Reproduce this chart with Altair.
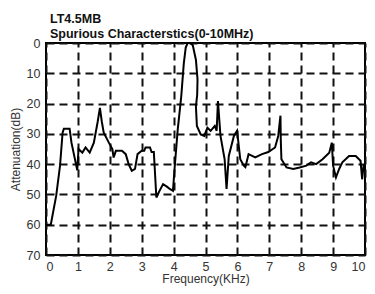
import altair as alt
import pandas as pd

freq = [0.0, 0.15, 0.32, 0.44, 0.52, 0.56, 0.74, 0.80, 0.90, 0.98, 1.02, 1.14, 1.24, 1.37, 1.5,
        1.62, 1.69, 1.75, 1.81, 1.97, 2.08, 2.12, 2.19, 2.38, 2.5, 2.59, 2.69, 2.79, 2.87, 3.0,
        3.08, 3.12, 3.26, 3.31, 3.38, 3.46, 3.55, 3.67, 3.8, 3.88, 3.98, 4.03, 4.13, 4.24, 4.32,
        4.38, 4.44, 4.52, 4.6, 4.7, 4.75, 4.74, 4.7, 4.73, 4.85, 4.96, 5.06, 5.16, 5.29, 5.35,
        5.39, 5.47, 5.6, 5.66, 5.73, 5.89, 5.99, 6.09, 6.2, 6.25, 6.35, 6.56, 6.77, 6.97, 7.18,
        7.28, 7.35, 7.36, 7.38, 7.54, 7.75, 7.95, 8.16, 8.31, 8.47, 8.67, 8.88, 8.96, 9.0, 9.09,
        9.19, 9.29, 9.5, 9.71, 9.86, 9.91, 9.96]
atten = [60, 60, 50.4, 40.5, 29.6, 28.3, 28.3, 33, 38, 42, 35, 36.2, 34.5, 36.2, 32.9,
         26, 21.4, 26, 29.6, 32.9, 35, 37.8, 35.6, 35.6, 36.7, 40, 42.2, 41.6, 36.7, 35.6,
         35.6, 34.5, 34.5, 36, 36, 51, 49, 46.6, 47.5, 48.2, 48.8, 41.6, 28.5, 17.6, 6.7,
         1.5, 0, 0, 0.7, 5.6, 12, 17, 21, 27.4, 30.2, 30.7, 28, 29, 27.4, 29,
         19.2, 30.7, 38.4, 48.2, 37.3, 30.7, 29, 38.4, 40.5, 41, 36.7, 37.8, 36.7, 36, 34.5,
         30.7, 24, 32, 38.4, 41.1, 41.6, 41.1, 40.5, 39.4, 40, 38.4, 36.2, 32.9, 40.5, 44.4,
         41.6, 39.4, 37.3, 37.3, 38.9, 45, 40]

x_ticks = list(range(0, 11))
y_ticks = list(range(0, 71, 10))

df = pd.DataFrame({"f": freq, "a": atten, "i": list(range(len(freq)))})

font = "Liberation Sans"

chart = alt.Chart(df).mark_line(color="black", strokeWidth=2).encode(
    x=alt.X("f:Q", scale=alt.Scale(domain=[0, 10], nice=False),
            axis=alt.Axis(values=x_ticks, title="Frequency(KHz)", grid=True,
                          gridDash=[8, 5], gridColor="#111", gridWidth=2, gridOpacity=1,
                          domain=False, ticks=False, labelPadding=5, labelFlush=True,
                          labelFontSize=12.5, labelColor="#333", labelFont=font,
                          titleFont=font, titleFontSize=12, titleFontWeight="normal",
                          titleColor="#333", titlePadding=1)),
    y=alt.Y("a:Q", scale=alt.Scale(domain=[0, 70], reverse=True, nice=False),
            axis=alt.Axis(values=y_ticks, title="Attenuation(dB)", grid=True,
                          gridDash=[8, 5], gridColor="#111", gridWidth=2, gridOpacity=1,
                          domain=False, ticks=False, labelPadding=6,
                          labelFontSize=12.5, labelColor="#333", labelFont=font,
                          titleFont=font, titleFontSize=12, titleFontWeight="normal",
                          titleColor="#333", titlePadding=4)),
    order="i:Q",
).properties(
    width=319, height=212,
    autosize=alt.AutoSizeParams(type="none"),
    padding={"left": 38, "top": 35, "right": 2, "bottom": 31},
    title=alt.TitleParams(text="LT4.5MB", subtitle="Spurious Characterstics(0-10MHz)",
                          anchor="start", frame="group", dx=4, offset=-3,
                          font=font, fontSize=12.5, fontWeight="bold", color="#111",
                          subtitleFont=font, subtitleFontSize=12.5, subtitleFontWeight="bold",
                          subtitleColor="#111", subtitlePadding=2.5),
).configure_view(stroke="black", strokeWidth=2)

chart.save("out.html", embed_options={"renderer": "svg", "actions": False})
